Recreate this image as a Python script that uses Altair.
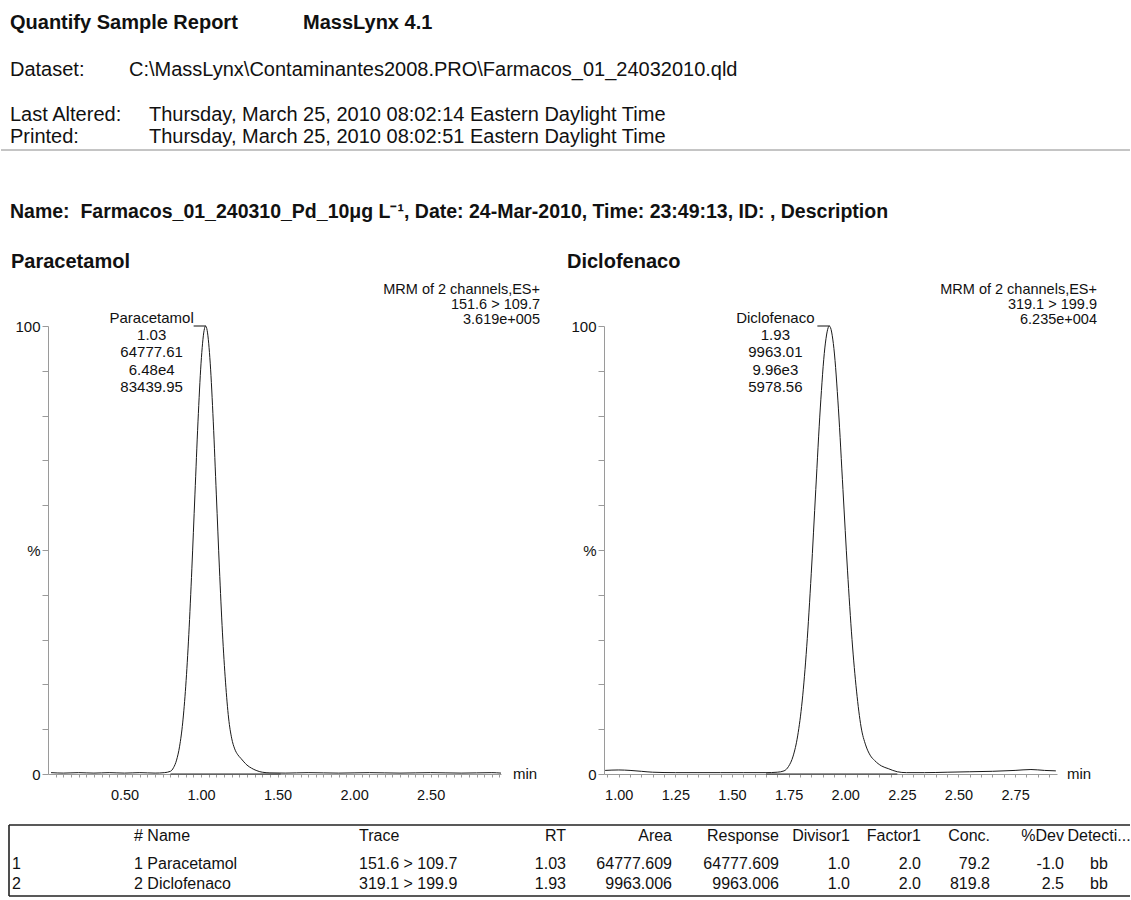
import altair as alt
import pandas as pd

FONT = "Liberation Sans"
INK = "#111111"
GREY = "#9a9a9a"

# ---------------- data ----------------
report_title = "Quantify Sample Report"
software_name = "MassLynx 4.1"
dataset_label = "Dataset:"
dataset_path = "C:\\MassLynx\\Contaminantes2008.PRO\\Farmacos_01_24032010.qld"
altered_label = "Last Altered:"
altered_value = "Thursday, March 25, 2010 08:02:14 Eastern Daylight Time"
printed_label = "Printed:"
printed_value = "Thursday, March 25, 2010 08:02:51 Eastern Daylight Time"
sample_line = ("Name:\u00a0 Farmacos_01_240310_Pd_10\u03bcg L\u207b\u00b9, Date: 24-Mar-2010, "
               "Time: 23:49:13, ID: , Description")

compounds = ["Paracetamol", "Diclofenaco"]
mrm_header = "MRM of 2 channels,ES+"
transitions = ["151.6 > 109.7", "319.1 > 199.9"]
full_scale = ["3.619e+005", "6.235e+004"]
peak_rt = [1.03, 1.93]
peak_area = ["64777.61", "9963.01"]
peak_response = ["6.48e4", "9.96e3"]
peak_height = ["83439.95", "5978.56"]
integration_start = [0.80, 1.65]
integration_end = [1.52, 2.23]

# Paracetamol trace (min, % of full scale)
para_time = [0.02, 0.10, 0.20, 0.30, 0.40, 0.50, 0.60, 0.70, 0.76, 0.80, 0.82, 0.84,
             0.86, 0.88, 0.90, 0.92, 0.94, 0.96, 0.98, 1.00, 1.02, 1.03, 1.04, 1.06,
             1.08, 1.10, 1.12, 1.14, 1.16, 1.18, 1.20, 1.22, 1.24, 1.26, 1.28, 1.30,
             1.33, 1.36, 1.40, 1.45, 1.55, 1.70, 1.90, 2.10, 2.30, 2.50, 2.70, 2.90, 2.96]
para_pct = [0.3, 0.2, 0.3, 0.2, 0.3, 0.2, 0.3, 0.2, 0.3, 0.6, 1.4, 3.1,
            6.2, 11.4, 19.6, 31.1, 45.8, 62.3, 78.6, 91.7, 99.0, 100.0, 99.0, 91.7,
            78.6, 62.3, 46.0, 31.5, 20.5, 12.5, 8.0, 5.6, 4.3, 3.5, 2.7, 2.0,
            1.3, 0.8, 0.4, 0.25, 0.2, 0.3, 0.2, 0.3, 0.2, 0.3, 0.2, 0.3, 0.2]

# Diclofenaco trace (min, % of full scale)
diclo_time = [0.94, 1.00, 1.05, 1.10, 1.15, 1.25, 1.35, 1.45, 1.55, 1.65, 1.70, 1.73,
              1.75, 1.77, 1.79, 1.81, 1.83, 1.85, 1.87, 1.89, 1.91, 1.93, 1.95, 1.97,
              1.99, 2.01, 2.03, 2.05, 2.07, 2.09, 2.11, 2.13, 2.16, 2.19, 2.23, 2.27,
              2.35, 2.45, 2.55, 2.65, 2.75, 2.82, 2.88, 2.93]
diclo_pct = [0.8, 0.9, 0.8, 0.6, 0.4, 0.3, 0.3, 0.3, 0.3, 0.3, 0.4, 0.7,
             1.7, 4.0, 8.5, 16.3, 28.4, 44.7, 63.5, 81.7, 95.1, 100.0, 95.0, 81.5,
             63.5, 45.5, 30.0, 18.5, 10.5, 6.5, 4.2, 3.0, 1.8, 1.2, 0.5, 0.3,
             0.3, 0.4, 0.5, 0.6, 0.8, 1.0, 0.8, 0.7]

table_header = ["", "# Name", "Trace", "RT", "Area", "Response", "Divisor1",
                "Factor1", "Conc.", "%Dev", "Detecti..."]
row_index = ["1", "2"]
row_name = ["1 Paracetamol", "2 Diclofenaco"]
row_trace = ["151.6 > 109.7", "319.1 > 199.9"]
row_rt = ["1.03", "1.93"]
row_area = ["64777.609", "9963.006"]
row_response = ["64777.609", "9963.006"]
row_divisor = ["1.0", "1.0"]
row_factor = ["2.0", "2.0"]
row_conc = ["79.2", "819.8"]
row_dev = ["-1.0", "2.5"]
row_detection = ["bb", "bb"]

# ---------------- layout (pixels) ----------------
OX_L, OX_R, OY = 47, 603, 326
W, H = 453, 448
DOM_L = [0.0, 2.96]
DOM_R = [0.935, 2.935]
CONNECTOR_PX = 12

ONE = pd.DataFrame({"k": [0]})


def text_at(s, ax, ay, ox, size=20, bold=False, align="left", baseline="middle", lh=None):
    kw = dict(text=s, font=FONT, fontSize=size, fontWeight="bold" if bold else "normal",
              align=align, baseline=baseline, color=INK)
    if lh:
        kw["lineHeight"] = lh
    return alt.Chart(ONE).mark_text(**kw).encode(x=alt.value(ax - ox), y=alt.value(ay - OY))


def hline(ax1, ax2, ay, ox, color, width):
    return alt.Chart(ONE).mark_rule(color=color, strokeWidth=width).encode(
        x=alt.value(ax1 - ox), x2=alt.value(ax2 - ox), y=alt.value(ay - OY))


def vline(ax, ay1, ay2, ox, color, width):
    return alt.Chart(ONE).mark_rule(color=color, strokeWidth=width).encode(
        x=alt.value(ax - ox), y=alt.value(ay1 - OY), y2=alt.value(ay2 - OY))


def chromatogram(times, pcts, i, domain, label_step, label_min, label_max):
    px_per_min = W / (domain[1] - domain[0])
    xs = alt.Scale(domain=domain, nice=False, zero=False)
    ys = alt.Scale(domain=[0, 100], nice=False)
    k0 = int(domain[0] / 0.05) + 1
    k1 = int(domain[1] / 0.05)
    tick_vals = [round(k * 0.05, 2) for k in range(k0, k1 + 1)]
    x_axis = alt.Axis(
        values=tick_vals,
        labelExpr=(f"(abs(datum.value*100 - round(datum.value*100/{label_step})*{label_step}) < 0.5"
                   f" && datum.value >= {label_min - 0.001} && datum.value <= {label_max + 0.001})"
                   " ? format(datum.value, '.2f') : ''"),
        tickSize=3, tickColor=GREY, domainColor=GREY, domainWidth=1,
        labelFont=FONT, labelFontSize=14.5, labelColor=INK, labelPadding=11,
        labelOverlap=False, labelFlush=False, grid=False, title=None)
    y_axis = alt.Axis(
        values=list(range(0, 101, 10)),
        labelExpr="datum.value == 100 ? '100' : (datum.value == 50 ? '%' : (datum.value == 0 ? '0' : ''))",
        tickSize=6, tickColor=GREY, domainColor=GREY, domainWidth=1,
        labelFont=FONT, labelFontSize=15, labelColor=INK, labelPadding=2,
        labelOverlap=False, labelFlush=False, grid=False, title=None)

    def X(field):
        return alt.X(field, scale=xs, axis=x_axis)

    def Y(field):
        return alt.Y(field, scale=ys, axis=y_axis)

    trace_df = pd.DataFrame({"t": times, "pct": pcts})
    trace = alt.Chart(trace_df).mark_line(interpolate="monotone", color="#1a1a1a",
                                          strokeWidth=1).encode(x=X("t:Q"), y=Y("pct:Q"))

    base_df = pd.DataFrame({"t": [integration_start[i]], "t2": [integration_end[i]], "pct": [0.0]})
    integ = alt.Chart(base_df).mark_rule(color="#2a2a2a", strokeWidth=1.2).encode(
        x=X("t:Q"), x2="t2:Q", y=Y("pct:Q"))

    lbl = "\n".join([compounds[i], f"{peak_rt[i]:.2f}", peak_area[i], peak_response[i], peak_height[i]])
    peak_df = pd.DataFrame({"t": [peak_rt[i]], "pct": [100.0], "lbl": [lbl]})
    conn = alt.Chart(peak_df).transform_calculate(
        t0=f"datum.t - {CONNECTOR_PX / px_per_min}").mark_rule(color=INK, strokeWidth=1).encode(
        x=X("t0:Q"), x2="t:Q", y=Y("pct:Q"))
    ptext = alt.Chart(peak_df).mark_text(
        lineBreak="\n", align="center", baseline="top", dx=-54, dy=-15.5, fontSize=15,
        lineHeight=17.4, font=FONT, color=INK).encode(x=X("t:Q"), y=Y("pct:Q"), text="lbl:N")
    return alt.layer(trace, integ, conn, ptext)


# ---------------- left panel ----------------
chrom_l = chromatogram(para_time, para_pct, 0, DOM_L, 50, 0.5, 2.5)

table_df = pd.DataFrame({
    "row": [0, 1, 2],
    "idx": [table_header[0]] + row_index,
    "name": [table_header[1]] + row_name,
    "trace": [table_header[2]] + row_trace,
    "rt": [table_header[3]] + row_rt,
    "area": [table_header[4]] + row_area,
    "resp": [table_header[5]] + row_response,
    "div": [table_header[6]] + row_divisor,
    "fac": [table_header[7]] + row_factor,
    "conc": [table_header[8]] + row_conc,
    "dev": [table_header[9]] + row_dev,
    "det": [table_header[10]] + row_detection,
})
TABLE_ROWS_Y = [836 - OY, 864 - OY, 884 - OY]
table_cols = [("idx", 11, "left"), ("name", 133, "left"), ("trace", 358, "left"),
              ("rt", 565, "right"), ("area", 671, "right"), ("resp", 778, "right"),
              ("div", 849, "right"), ("fac", 920, "right"), ("conc", 989, "right"),
              ("dev", 1063, "right"), ("det", 1098, "center")]
table_layers = []
for key, ax, al in table_cols:
    table_layers.append(
        alt.Chart(table_df).mark_text(align=al, baseline="middle", fontSize=16, font=FONT,
                                      color=INK).encode(
            x=alt.value(ax - OX_L),
            y=alt.Y("row:Q", scale=alt.Scale(domain=[0, 1, 2], range=TABLE_ROWS_Y), axis=None),
            text=f"{key}:N"))
table = alt.layer(*table_layers)

left_decor = [
    text_at(report_title, 9, 23, OX_L, bold=True),
    text_at(software_name, 302, 23, OX_L, bold=True),
    text_at(dataset_label, 9, 70, OX_L),
    text_at(dataset_path, 128, 70, OX_L),
    text_at(altered_label, 9, 115, OX_L),
    text_at(altered_value, 148, 115, OX_L),
    text_at(printed_label, 9, 137, OX_L),
    text_at(printed_value, 148, 137, OX_L),
    hline(0, 1129, 150, OX_L, "#8a8a8a", 1),
    text_at(sample_line, 9, 212, OX_L, size=19.5, bold=True),
    text_at(compounds[0], 10, 262, OX_L, bold=True),
    text_at([mrm_header, transitions[0], full_scale[0]], 539, 283, OX_L, size=14.5,
            align="right", baseline="top", lh=15),
    text_at("min", OX_L + W + 12, 774, OX_L, size=15),
    hline(8, 1129, 825, OX_L, "#222222", 1.6),
    hline(8, 1129, 896, OX_L, "#222222", 1.6),
    vline(8, 825, 896, OX_L, "#222222", 1.6),
]
anchor = alt.Chart(ONE).mark_rect(opacity=0).encode(
    x=alt.value(-OX_L), x2=alt.value(-OX_L + 1), y=alt.value(-OY), y2=alt.value(-OY + 1))

left = alt.layer(chrom_l, table, *left_decor, anchor).resolve_scale(
    x="independent", y="independent").properties(width=W, height=H)

# ---------------- right panel ----------------
chrom_r = chromatogram(diclo_time, diclo_pct, 1, DOM_R, 25, 1.0, 2.75)
right_decor = [
    text_at(compounds[1], 566, 262, OX_R, bold=True),
    text_at([mrm_header, transitions[1], full_scale[1]], 1096, 283, OX_R, size=14.5,
            align="right", baseline="top", lh=15),
    text_at("min", OX_R + W + 10, 774, OX_R, size=15),
]
right = alt.layer(chrom_r, *right_decor).properties(width=W, height=H)

chart = alt.hconcat(left, right, spacing=OX_R - OX_L - W, bounds="flush").properties(
    padding=0, background="white").configure_view(stroke=None)

chart.save("out.html", embed_options={"renderer": "svg", "actions": False})
